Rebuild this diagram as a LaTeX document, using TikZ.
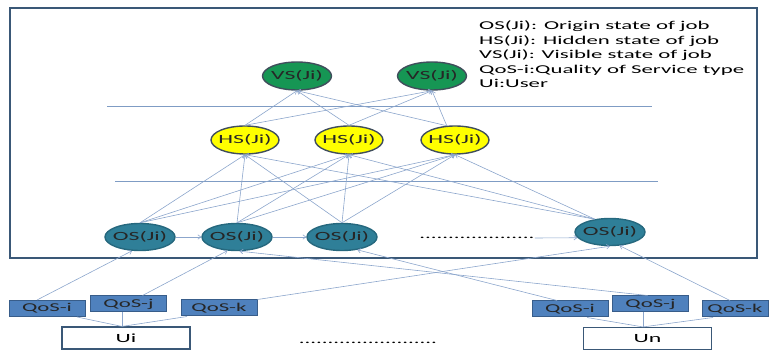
\documentclass[tikz,border=0pt]{standalone}
\usepackage{fontspec}
\usepackage{graphicx}
\setmainfont{Carlito}
\usetikzlibrary{shapes.geometric,arrows.meta}

\definecolor{framecol}{RGB}{58,88,119}
\definecolor{edgecol}{RGB}{140,166,204}
\definecolor{rulecol}{RGB}{127,156,196}
\definecolor{vsfill}{RGB}{22,150,84}
\definecolor{hsfill}{RGB}{255,255,0}
\definecolor{stateborder}{RGB}{64,78,92}
\definecolor{osfill}{RGB}{47,127,152}
\definecolor{osborder}{RGB}{38,104,126}
\definecolor{qosfill}{RGB}{79,129,189}
\definecolor{qosborder}{RGB}{56,93,138}

% wide lettering used throughout the figure
\newcommand{\wtxt}[1]{\scalebox{1.9}[1]{#1}}

\tikzset{
  statebase/.style={ellipse, inner xsep=-4pt, inner ysep=0pt, line width=1.4pt,
    font=\fontsize{12.5}{14}\selectfont, text=black!85},
  vsnode/.style={statebase, fill=vsfill, draw=stateborder,
    minimum width=69pt, minimum height=28pt},
  hsnode/.style={statebase, fill=hsfill, draw=stateborder,
    minimum width=68pt, minimum height=28pt},
  osnode/.style={statebase, fill=osfill, draw=osborder,
    minimum width=70pt, minimum height=27pt},
  qosbox/.style={rectangle, inner sep=0pt, fill=qosfill, draw=qosborder,
    line width=1pt, minimum width=76pt, minimum height=16pt,
    font=\fontsize{12}{14}\selectfont, text=black!85},
  userbox/.style={rectangle, inner sep=0pt, fill=white, draw=framecol,
    line width=1.1pt, minimum width=128pt, minimum height=22pt,
    font=\fontsize{12.5}{14}\selectfont},
  link/.style={draw=edgecol, line width=0.6pt},
  arrowlink/.style={link, -{Straight Barb[length=3pt,width=4.5pt]}},
  legendline/.style={anchor=base west, inner sep=0pt,
    font=\fontsize{12}{14}\selectfont},
  dotrow/.style={inner sep=0pt, font=\fontsize{12}{14}\selectfont}
}

\begin{document}
\begin{tikzpicture}[x=1pt, y=-1pt]
\useasboundingbox (0,0) rectangle (769,352);

% outer frame
\draw[framecol, line width=2.5pt] (10,8) rectangle (757,258);

% layer separators
\draw[rulecol, line width=0.7pt] (107,106) -- (652,106);
\draw[rulecol, line width=0.7pt] (115,181) -- (658,181);

% legend
\node[legendline] (lg1) at (479,30)   {\wtxt{OS(Ji): Origin state of job}};
\node[legendline] (lg2) at (479,44.5) {\wtxt{HS(Ji): Hidden state of job}};
\node[legendline] (lg3) at (479,59)   {\wtxt{VS(Ji): Visible state of job}};
\node[legendline] (lg4) at (479,73.5) {\wtxt{QoS-i:Quality of Service type}};
\node[legendline] (lg5) at (479,88)   {\wtxt{Ui:User}};

% visible states
\node[vsnode] (vs1) at (297,76) {\wtxt{VS(Ji)}};
\node[vsnode] (vs2) at (432,76) {\wtxt{VS(Ji)}};

% hidden states
\node[hsnode] (hs1) at (245,140) {\wtxt{HS(Ji)}};
\node[hsnode] (hs2) at (349,140) {\wtxt{HS(Ji)}};
\node[hsnode] (hs3) at (455,140) {\wtxt{HS(Ji)}};

% origin states
\node[osnode] (os1) at (140,237) {\wtxt{OS(Ji)}};
\node[osnode] (os2) at (237,237) {\wtxt{OS(Ji)}};
\node[osnode] (os3) at (342,237) {\wtxt{OS(Ji)}};
\node[osnode] (os4) at (610,232) {\wtxt{OS(Ji)}};
\node[dotrow] (dots1) at (477,238) {\wtxt{....................}};

% QoS types and users
\node[qosbox] (qi1) at (47,308.5) {\wtxt{QoS-i}};
\node[qosbox] (qj1) at (128.5,304) {\wtxt{QoS-j}};
\node[qosbox] (qk1) at (219,308) {\wtxt{QoS-k}};
\node[userbox] (ui) at (126,338) {\wtxt{Ui}};

\node[qosbox] (qi2) at (570,309) {\wtxt{QoS-i}};
\node[qosbox] (qj2) at (650.5,304) {\wtxt{QoS-j}};
\node[qosbox, minimum width=66pt] (qk2) at (735,309) {\wtxt{QoS-k}};
\node[userbox] (un) at (647.5,338.5) {\wtxt{Un}};

\node[dotrow] (dots2) at (368,343) {\wtxt{........................}};

% hidden -> visible
\foreach \v in {vs1,vs2}{
  \draw[arrowlink] (hs1.north) -- (\v.south);
  \draw[arrowlink] (hs2.north) -- (\v.south);
  \draw[arrowlink] (hs3.120) -- (\v.south);
}

% origin -> hidden
\foreach \h in {hs1,hs2,hs3}{
  \draw[arrowlink] (os1.north) -- (\h.south);
  \draw[arrowlink] (os2.north) -- (\h.south);
  \draw[arrowlink] (os3.north) -- (\h.south);
  \draw[arrowlink] (os4.140) -- (\h.south);
}

% chain of origin states
\draw[arrowlink] (os1.east) -- (os2.west);
\draw[arrowlink] (os2.east) -- (os3.west);
\draw[arrowlink] (dots1.east) -- (os4.190);

% QoS -> origin states
\draw[arrowlink] ([xshift=-10pt]qi1.north) -- (os1.240);
\draw[arrowlink] ([xshift=14pt]qj1.north) -- (os2.235);
\draw[arrowlink] (qk1.north east) -- (os4.south);
\draw[arrowlink] ([xshift=-13pt]qi2.north) -- (os3.-40);
\draw[arrowlink] ([xshift=-3pt]qj2.north) -- (os2.-80);
\draw[arrowlink] ([xshift=-5pt]qk2.north) -- (os4.-55);

% users -> QoS
\coordinate (uitop) at ([xshift=-4pt]ui.north);
\draw[link] (uitop) -- ([xshift=30pt]qi1.south);
\draw[link] (uitop) -- ([xshift=-6.5pt]qj1.south);
\draw[link] (uitop) -- ([xshift=-32pt]qk1.south);
\coordinate (untop) at ([xshift=-4.5pt]un.north);
\draw[link] (untop) -- ([xshift=17pt]qi2.south);
\draw[link] (untop) -- ([xshift=-7.5pt]qj2.south);
\draw[link] (untop) -- ([xshift=-22pt]qk2.south);
\end{tikzpicture}
\end{document}
